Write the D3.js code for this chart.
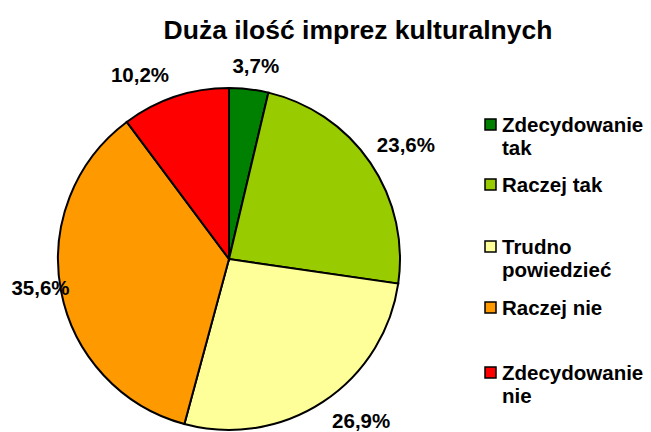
<!DOCTYPE html>
<html>
  <head>
    <meta charset="utf-8">
    <style>
      body { margin: 0px; overflow: hidden; background: #fff; }
      text { font-family: "Liberation Sans", Arial, sans-serif; font-weight: bold; }
    </style>
    <script src="https://d3js.org/d3.v7.min.js"></script>
  </head>
  <body>
    <svg width="651" height="432"></svg>
    <script>
      const categories = ['Zdecydowanie tak', 'Raczej tak', 'Trudno powiedzieć', 'Raczej nie', 'Zdecydowanie nie'];
      const values = [3.7, 23.6, 26.9, 35.6, 10.2];
      const labels = ['3,7%', '23,6%', '26,9%', '35,6%', '10,2%'];
      const colors = ['#008000', '#99cc00', '#ffff99', '#ff9900', '#ff0000'];
      const legendLines = [['Zdecydowanie', 'tak'], ['Raczej tak'], ['Trudno', 'powiedzieć'], ['Raczej nie'], ['Zdecydowanie', 'nie']];

      const svg = d3.select('svg');
      const cx = 229, cy = 259, r = 171;

      svg.append('text')
        .attr('x', 358).attr('y', 39)
        .attr('text-anchor', 'middle')
        .attr('font-size', 26.5)
        .text('Duża ilość imprez kulturalnych');

      const pie = d3.pie().sort(null).value(d => d);
      const arcs = pie(values);
      const arc = d3.arc().innerRadius(0).outerRadius(r);
      const labelArc = d3.arc().innerRadius(r + 26).outerRadius(r + 26);

      const g = svg.append('g').attr('transform', `translate(${cx},${cy})`);
      g.selectAll('path').data(arcs)
        .enter().append('path')
          .attr('d', arc)
          .attr('fill', (d, i) => colors[i])
          .attr('stroke', '#000')
          .attr('stroke-width', 2);

      // label offsets tuned to the reference placement
      const nudge = [[4, 10], [14, 4], [24, 4], [5, -1], [-27, 10]];
      g.selectAll('text.lbl').data(arcs)
        .enter().append('text')
          .attr('class', 'lbl')
          .attr('x', (d, i) => labelArc.centroid(d)[0] + nudge[i][0])
          .attr('y', (d, i) => labelArc.centroid(d)[1] + nudge[i][1])
          .attr('text-anchor', 'middle')
          .attr('font-size', 20.5)
          .text((d, i) => labels[i]);

      const legendY = [132, 192, 254, 315, 380];
      const lg = svg.append('g');
      categories.forEach((c, i) => {
        lg.append('rect')
          .attr('x', 485).attr('y', legendY[i] - 13)
          .attr('width', 11).attr('height', 11)
          .attr('fill', colors[i])
          .attr('stroke', '#000')
          .attr('stroke-width', 1.5);
        legendLines[i].forEach((t, j) => {
          lg.append('text')
            .attr('x', 502).attr('y', legendY[i] + j * 23)
            .attr('font-size', 20.5)
            .text(t);
        });
      });
    </script>
  </body>
</html>
